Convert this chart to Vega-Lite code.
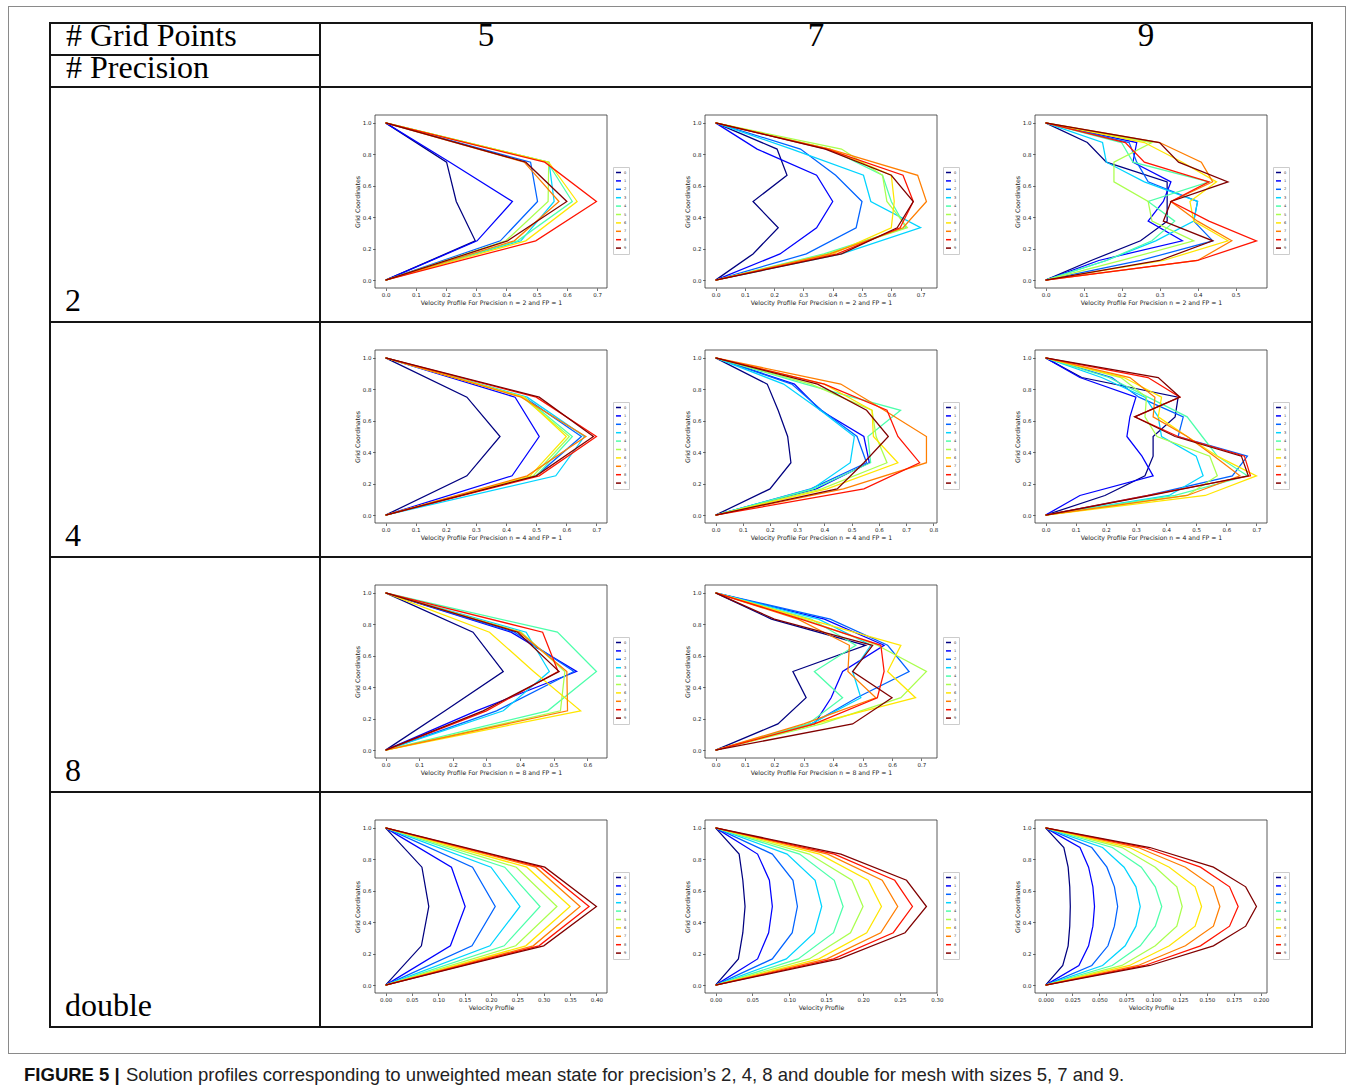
{
"$schema":"https://vega.github.io/schema/vega-lite/v6.json",
"padding":{"left":8,"top":6,"right":0,"bottom":0},
"background":"white",
"config":{
 "view":{"stroke":null},
 "axis":{"labelFont":"DejaVu Sans","titleFont":"DejaVu Sans","labelFontSize":5.5,"titleFontSize":6.2,"titleFontWeight":"normal","labelColor":"#222","titleColor":"#222","tickColor":"#333","tickSize":2.5,"tickWidth":0.7,"labelPadding":1.5,"titlePadding":2,"grid":false,"domain":false,"labelOverlap":false,"labelFlush":false,"labelBound":false},
 "legend":{"symbolType":"stroke","symbolSize":25,"symbolStrokeWidth":1.5,"labelFont":"DejaVu Sans","labelFontSize":3.6,"labelColor":"#333","rowPadding":1.4,"padding":2,"strokeColor":"#ccc","fillColor":"#fff","labelOffset":2,"columnPadding":0}
},
"datasets":{
"P25":[
{"s":0,"y":0,"x":0},{"s":0,"y":0.25,"x":0.297},{"s":0,"y":0.5,"x":0.234},{"s":0,"y":0.75,"x":0.202},{"s":0,"y":1,"x":0},
{"s":1,"y":0,"x":0},{"s":1,"y":0.25,"x":0.303},{"s":1,"y":0.5,"x":0.42},{"s":1,"y":0.75,"x":0.213},{"s":1,"y":1,"x":0},
{"s":2,"y":0,"x":0},{"s":2,"y":0.25,"x":0.38},{"s":2,"y":0.5,"x":0.503},{"s":2,"y":0.75,"x":0.48},{"s":2,"y":1,"x":0},
{"s":3,"y":0,"x":0},{"s":3,"y":0.25,"x":0.448},{"s":3,"y":0.5,"x":0.558},{"s":3,"y":0.75,"x":0.541},{"s":3,"y":1,"x":0},
{"s":4,"y":0,"x":0},{"s":4,"y":0.25,"x":0.437},{"s":4,"y":0.5,"x":0.618},{"s":4,"y":0.75,"x":0.536},{"s":4,"y":1,"x":0},
{"s":5,"y":0,"x":0},{"s":5,"y":0.25,"x":0.398},{"s":5,"y":0.5,"x":0.538},{"s":5,"y":0.75,"x":0.54},{"s":5,"y":1,"x":0},
{"s":6,"y":0,"x":0},{"s":6,"y":0.25,"x":0.464},{"s":6,"y":0.5,"x":0.634},{"s":6,"y":0.75,"x":0.54},{"s":6,"y":1,"x":0},
{"s":7,"y":0,"x":0},{"s":7,"y":0.25,"x":0.426},{"s":7,"y":0.5,"x":0.574},{"s":7,"y":0.75,"x":0.459},{"s":7,"y":1,"x":0},
{"s":8,"y":0,"x":0},{"s":8,"y":0.25,"x":0.497},{"s":8,"y":0.5,"x":0.698},{"s":8,"y":0.75,"x":0.527},{"s":8,"y":1,"x":0},
{"s":9,"y":0,"x":0},{"s":9,"y":0.25,"x":0.404},{"s":9,"y":0.5,"x":0.6},{"s":9,"y":0.75,"x":0.464},{"s":9,"y":1,"x":0}
],
"P27":[
{"s":0,"y":0,"x":0},{"s":0,"y":0.1667,"x":0.128},{"s":0,"y":0.3333,"x":0.214},{"s":0,"y":0.5,"x":0.128},{"s":0,"y":0.6667,"x":0.244},{"s":0,"y":0.8333,"x":0.21},{"s":0,"y":1,"x":0},
{"s":1,"y":0,"x":0},{"s":1,"y":0.1667,"x":0.22},{"s":1,"y":0.3333,"x":0.345},{"s":1,"y":0.5,"x":0.4},{"s":1,"y":0.6667,"x":0.345},{"s":1,"y":0.8333,"x":0.142},{"s":1,"y":1,"x":0},
{"s":2,"y":0,"x":0},{"s":2,"y":0.1667,"x":0.31},{"s":2,"y":0.3333,"x":0.48},{"s":2,"y":0.5,"x":0.5},{"s":2,"y":0.6667,"x":0.41},{"s":2,"y":0.8333,"x":0.29},{"s":2,"y":1,"x":0},
{"s":3,"y":0,"x":0},{"s":3,"y":0.1667,"x":0.43},{"s":3,"y":0.3333,"x":0.7},{"s":3,"y":0.5,"x":0.53},{"s":3,"y":0.6667,"x":0.505},{"s":3,"y":0.8333,"x":0.26},{"s":3,"y":1,"x":0},
{"s":4,"y":0,"x":0},{"s":4,"y":0.1667,"x":0.37},{"s":4,"y":0.3333,"x":0.65},{"s":4,"y":0.5,"x":0.6},{"s":4,"y":0.6667,"x":0.57},{"s":4,"y":0.8333,"x":0.39},{"s":4,"y":1,"x":0},
{"s":5,"y":0,"x":0},{"s":5,"y":0.1667,"x":0.38},{"s":5,"y":0.3333,"x":0.655},{"s":5,"y":0.5,"x":0.585},{"s":5,"y":0.6667,"x":0.57},{"s":5,"y":0.8333,"x":0.43},{"s":5,"y":1,"x":0},
{"s":6,"y":0,"x":0},{"s":6,"y":0.1667,"x":0.4},{"s":6,"y":0.3333,"x":0.6},{"s":6,"y":0.5,"x":0.61},{"s":6,"y":0.6667,"x":0.6},{"s":6,"y":0.8333,"x":0.39},{"s":6,"y":1,"x":0},
{"s":7,"y":0,"x":0},{"s":7,"y":0.1667,"x":0.39},{"s":7,"y":0.3333,"x":0.64},{"s":7,"y":0.5,"x":0.72},{"s":7,"y":0.6667,"x":0.69},{"s":7,"y":0.8333,"x":0.39},{"s":7,"y":1,"x":0},
{"s":8,"y":0,"x":0},{"s":8,"y":0.1667,"x":0.415},{"s":8,"y":0.3333,"x":0.63},{"s":8,"y":0.5,"x":0.675},{"s":8,"y":0.6667,"x":0.64},{"s":8,"y":0.8333,"x":0.38},{"s":8,"y":1,"x":0},
{"s":9,"y":0,"x":0},{"s":9,"y":0.1667,"x":0.43},{"s":9,"y":0.3333,"x":0.62},{"s":9,"y":0.5,"x":0.675},{"s":9,"y":0.6667,"x":0.6},{"s":9,"y":0.8333,"x":0.375},{"s":9,"y":1,"x":0}
],
"P29":[
{"s":0,"y":0,"x":0},{"s":0,"y":0.125,"x":0.12},{"s":0,"y":0.25,"x":0.25},{"s":0,"y":0.375,"x":0.32},{"s":0,"y":0.5,"x":0.32},{"s":0,"y":0.625,"x":0.32},{"s":0,"y":0.75,"x":0.16},{"s":0,"y":0.875,"x":0.11},{"s":0,"y":1,"x":0},
{"s":1,"y":0,"x":0},{"s":1,"y":0.125,"x":0.14},{"s":1,"y":0.25,"x":0.36},{"s":1,"y":0.375,"x":0.27},{"s":1,"y":0.5,"x":0.31},{"s":1,"y":0.625,"x":0.33},{"s":1,"y":0.75,"x":0.23},{"s":1,"y":0.875,"x":0.24},{"s":1,"y":1,"x":0},
{"s":2,"y":0,"x":0},{"s":2,"y":0.125,"x":0.25},{"s":2,"y":0.25,"x":0.44},{"s":2,"y":0.375,"x":0.39},{"s":2,"y":0.5,"x":0.4},{"s":2,"y":0.625,"x":0.27},{"s":2,"y":0.75,"x":0.24},{"s":2,"y":0.875,"x":0.22},{"s":2,"y":1,"x":0},
{"s":3,"y":0,"x":0},{"s":3,"y":0.125,"x":0.16},{"s":3,"y":0.25,"x":0.29},{"s":3,"y":0.375,"x":0.39},{"s":3,"y":0.5,"x":0.4},{"s":3,"y":0.625,"x":0.26},{"s":3,"y":0.75,"x":0.16},{"s":3,"y":0.875,"x":0.15},{"s":3,"y":1,"x":0},
{"s":4,"y":0,"x":0},{"s":4,"y":0.125,"x":0.16},{"s":4,"y":0.25,"x":0.28},{"s":4,"y":0.375,"x":0.34},{"s":4,"y":0.5,"x":0.27},{"s":4,"y":0.625,"x":0.43},{"s":4,"y":0.75,"x":0.23},{"s":4,"y":0.875,"x":0.2},{"s":4,"y":1,"x":0},
{"s":5,"y":0,"x":0},{"s":5,"y":0.125,"x":0.2},{"s":5,"y":0.25,"x":0.39},{"s":5,"y":0.375,"x":0.28},{"s":5,"y":0.5,"x":0.27},{"s":5,"y":0.625,"x":0.18},{"s":5,"y":0.75,"x":0.18},{"s":5,"y":0.875,"x":0.28},{"s":5,"y":1,"x":0},
{"s":6,"y":0,"x":0},{"s":6,"y":0.125,"x":0.31},{"s":6,"y":0.25,"x":0.48},{"s":6,"y":0.375,"x":0.39},{"s":6,"y":0.5,"x":0.38},{"s":6,"y":0.625,"x":0.45},{"s":6,"y":0.75,"x":0.36},{"s":6,"y":0.875,"x":0.26},{"s":6,"y":1,"x":0},
{"s":7,"y":0,"x":0},{"s":7,"y":0.125,"x":0.4},{"s":7,"y":0.25,"x":0.49},{"s":7,"y":0.375,"x":0.4},{"s":7,"y":0.5,"x":0.33},{"s":7,"y":0.625,"x":0.44},{"s":7,"y":0.75,"x":0.41},{"s":7,"y":0.875,"x":0.3},{"s":7,"y":1,"x":0},
{"s":8,"y":0,"x":0},{"s":8,"y":0.125,"x":0.4},{"s":8,"y":0.25,"x":0.555},{"s":8,"y":0.375,"x":0.43},{"s":8,"y":0.5,"x":0.33},{"s":8,"y":0.625,"x":0.43},{"s":8,"y":0.75,"x":0.26},{"s":8,"y":0.875,"x":0.21},{"s":8,"y":1,"x":0},
{"s":9,"y":0,"x":0},{"s":9,"y":0.125,"x":0.3},{"s":9,"y":0.25,"x":0.44},{"s":9,"y":0.375,"x":0.31},{"s":9,"y":0.5,"x":0.33},{"s":9,"y":0.625,"x":0.48},{"s":9,"y":0.75,"x":0.35},{"s":9,"y":0.875,"x":0.3},{"s":9,"y":1,"x":0}
],
"P45":[
{"s":0,"y":0,"x":0},{"s":0,"y":0.25,"x":0.27},{"s":0,"y":0.5,"x":0.38},{"s":0,"y":0.75,"x":0.27},{"s":0,"y":1,"x":0},
{"s":1,"y":0,"x":0},{"s":1,"y":0.25,"x":0.42},{"s":1,"y":0.5,"x":0.51},{"s":1,"y":0.75,"x":0.43},{"s":1,"y":1,"x":0},
{"s":2,"y":0,"x":0},{"s":2,"y":0.25,"x":0.5},{"s":2,"y":0.5,"x":0.65},{"s":2,"y":0.75,"x":0.46},{"s":2,"y":1,"x":0},
{"s":3,"y":0,"x":0},{"s":3,"y":0.25,"x":0.565},{"s":3,"y":0.5,"x":0.66},{"s":3,"y":0.75,"x":0.47},{"s":3,"y":1,"x":0},
{"s":4,"y":0,"x":0},{"s":4,"y":0.25,"x":0.5},{"s":4,"y":0.5,"x":0.62},{"s":4,"y":0.75,"x":0.46},{"s":4,"y":1,"x":0},
{"s":5,"y":0,"x":0},{"s":5,"y":0.25,"x":0.49},{"s":5,"y":0.5,"x":0.61},{"s":5,"y":0.75,"x":0.455},{"s":5,"y":1,"x":0},
{"s":6,"y":0,"x":0},{"s":6,"y":0.25,"x":0.48},{"s":6,"y":0.5,"x":0.6},{"s":6,"y":0.75,"x":0.46},{"s":6,"y":1,"x":0},
{"s":7,"y":0,"x":0},{"s":7,"y":0.25,"x":0.47},{"s":7,"y":0.5,"x":0.665},{"s":7,"y":0.75,"x":0.45},{"s":7,"y":1,"x":0},
{"s":8,"y":0,"x":0},{"s":8,"y":0.25,"x":0.51},{"s":8,"y":0.5,"x":0.7},{"s":8,"y":0.75,"x":0.5},{"s":8,"y":1,"x":0},
{"s":9,"y":0,"x":0},{"s":9,"y":0.25,"x":0.5},{"s":9,"y":0.5,"x":0.69},{"s":9,"y":0.75,"x":0.51},{"s":9,"y":1,"x":0}
],
"P47":[
{"s":0,"y":0,"x":0},{"s":0,"y":0.1667,"x":0.2},{"s":0,"y":0.3333,"x":0.277},{"s":0,"y":0.5,"x":0.265},{"s":0,"y":0.6667,"x":0.23},{"s":0,"y":0.8333,"x":0.19},{"s":0,"y":1,"x":0},
{"s":1,"y":0,"x":0},{"s":1,"y":0.1667,"x":0.37},{"s":1,"y":0.3333,"x":0.565},{"s":1,"y":0.5,"x":0.545},{"s":1,"y":0.6667,"x":0.385},{"s":1,"y":0.8333,"x":0.29},{"s":1,"y":1,"x":0},
{"s":2,"y":0,"x":0},{"s":2,"y":0.1667,"x":0.35},{"s":2,"y":0.3333,"x":0.555},{"s":2,"y":0.5,"x":0.52},{"s":2,"y":0.6667,"x":0.39},{"s":2,"y":0.8333,"x":0.28},{"s":2,"y":1,"x":0},
{"s":3,"y":0,"x":0},{"s":3,"y":0.1667,"x":0.355},{"s":3,"y":0.3333,"x":0.495},{"s":3,"y":0.5,"x":0.51},{"s":3,"y":0.6667,"x":0.385},{"s":3,"y":0.8333,"x":0.25},{"s":3,"y":1,"x":0},
{"s":4,"y":0,"x":0},{"s":4,"y":0.1667,"x":0.36},{"s":4,"y":0.3333,"x":0.57},{"s":4,"y":0.5,"x":0.56},{"s":4,"y":0.6667,"x":0.68},{"s":4,"y":0.8333,"x":0.33},{"s":4,"y":1,"x":0},
{"s":5,"y":0,"x":0},{"s":5,"y":0.1667,"x":0.39},{"s":5,"y":0.3333,"x":0.63},{"s":5,"y":0.5,"x":0.59},{"s":5,"y":0.6667,"x":0.575},{"s":5,"y":0.8333,"x":0.35},{"s":5,"y":1,"x":0},
{"s":6,"y":0,"x":0},{"s":6,"y":0.1667,"x":0.41},{"s":6,"y":0.3333,"x":0.67},{"s":6,"y":0.5,"x":0.58},{"s":6,"y":0.6667,"x":0.575},{"s":6,"y":0.8333,"x":0.4},{"s":6,"y":1,"x":0},
{"s":7,"y":0,"x":0},{"s":7,"y":0.1667,"x":0.47},{"s":7,"y":0.3333,"x":0.775},{"s":7,"y":0.5,"x":0.775},{"s":7,"y":0.6667,"x":0.62},{"s":7,"y":0.8333,"x":0.46},{"s":7,"y":1,"x":0},
{"s":8,"y":0,"x":0},{"s":8,"y":0.1667,"x":0.545},{"s":8,"y":0.3333,"x":0.75},{"s":8,"y":0.5,"x":0.67},{"s":8,"y":0.6667,"x":0.63},{"s":8,"y":0.8333,"x":0.4},{"s":8,"y":1,"x":0},
{"s":9,"y":0,"x":0},{"s":9,"y":0.1667,"x":0.447},{"s":9,"y":0.3333,"x":0.545},{"s":9,"y":0.5,"x":0.635},{"s":9,"y":0.6667,"x":0.555},{"s":9,"y":0.8333,"x":0.375},{"s":9,"y":1,"x":0}
],
"P49":[
{"s":0,"y":0,"x":0},{"s":0,"y":0.125,"x":0.197},{"s":0,"y":0.25,"x":0.33},{"s":0,"y":0.375,"x":0.357},{"s":0,"y":0.5,"x":0.357},{"s":0,"y":0.625,"x":0.43},{"s":0,"y":0.75,"x":0.44},{"s":0,"y":0.875,"x":0.12},{"s":0,"y":1,"x":0},
{"s":1,"y":0,"x":0},{"s":1,"y":0.125,"x":0.114},{"s":1,"y":0.25,"x":0.357},{"s":1,"y":0.375,"x":0.32},{"s":1,"y":0.5,"x":0.27},{"s":1,"y":0.625,"x":0.28},{"s":1,"y":0.75,"x":0.3},{"s":1,"y":0.875,"x":0.114},{"s":1,"y":1,"x":0},
{"s":2,"y":0,"x":0},{"s":2,"y":0.125,"x":0.34},{"s":2,"y":0.25,"x":0.62},{"s":2,"y":0.375,"x":0.67},{"s":2,"y":0.5,"x":0.44},{"s":2,"y":0.625,"x":0.457},{"s":2,"y":0.75,"x":0.31},{"s":2,"y":0.875,"x":0.22},{"s":2,"y":1,"x":0},
{"s":3,"y":0,"x":0},{"s":3,"y":0.125,"x":0.41},{"s":3,"y":0.25,"x":0.523},{"s":3,"y":0.375,"x":0.5},{"s":3,"y":0.5,"x":0.385},{"s":3,"y":0.625,"x":0.374},{"s":3,"y":0.75,"x":0.33},{"s":3,"y":0.875,"x":0.186},{"s":3,"y":1,"x":0},
{"s":4,"y":0,"x":0},{"s":4,"y":0.125,"x":0.43},{"s":4,"y":0.25,"x":0.67},{"s":4,"y":0.375,"x":0.57},{"s":4,"y":0.5,"x":0.52},{"s":4,"y":0.625,"x":0.47},{"s":4,"y":0.75,"x":0.34},{"s":4,"y":0.875,"x":0.21},{"s":4,"y":1,"x":0},
{"s":5,"y":0,"x":0},{"s":5,"y":0.125,"x":0.47},{"s":5,"y":0.25,"x":0.57},{"s":5,"y":0.375,"x":0.545},{"s":5,"y":0.5,"x":0.37},{"s":5,"y":0.625,"x":0.33},{"s":5,"y":0.75,"x":0.335},{"s":5,"y":0.875,"x":0.25},{"s":5,"y":1,"x":0},
{"s":6,"y":0,"x":0},{"s":6,"y":0.125,"x":0.53},{"s":6,"y":0.25,"x":0.7},{"s":6,"y":0.375,"x":0.57},{"s":6,"y":0.5,"x":0.47},{"s":6,"y":0.625,"x":0.374},{"s":6,"y":0.75,"x":0.385},{"s":6,"y":0.875,"x":0.26},{"s":6,"y":1,"x":0},
{"s":7,"y":0,"x":0},{"s":7,"y":0.125,"x":0.47},{"s":7,"y":0.25,"x":0.645},{"s":7,"y":0.375,"x":0.56},{"s":7,"y":0.5,"x":0.47},{"s":7,"y":0.625,"x":0.357},{"s":7,"y":0.75,"x":0.363},{"s":7,"y":0.875,"x":0.28},{"s":7,"y":1,"x":0},
{"s":8,"y":0,"x":0},{"s":8,"y":0.125,"x":0.34},{"s":8,"y":0.25,"x":0.68},{"s":8,"y":0.375,"x":0.66},{"s":8,"y":0.5,"x":0.44},{"s":8,"y":0.625,"x":0.296},{"s":8,"y":0.75,"x":0.446},{"s":8,"y":0.875,"x":0.34},{"s":8,"y":1,"x":0},
{"s":9,"y":0,"x":0},{"s":9,"y":0.125,"x":0.35},{"s":9,"y":0.25,"x":0.673},{"s":9,"y":0.375,"x":0.65},{"s":9,"y":0.5,"x":0.43},{"s":9,"y":0.625,"x":0.296},{"s":9,"y":0.75,"x":0.446},{"s":9,"y":0.875,"x":0.374},{"s":9,"y":1,"x":0}
],
"P85":[
{"s":0,"y":0,"x":0},{"s":0,"y":0.25,"x":0.177},{"s":0,"y":0.5,"x":0.35},{"s":0,"y":0.75,"x":0.26},{"s":0,"y":1,"x":0},
{"s":1,"y":0,"x":0},{"s":1,"y":0.25,"x":0.27},{"s":1,"y":0.5,"x":0.568},{"s":1,"y":0.75,"x":0.373},{"s":1,"y":1,"x":0},
{"s":2,"y":0,"x":0},{"s":2,"y":0.25,"x":0.33},{"s":2,"y":0.5,"x":0.56},{"s":2,"y":0.75,"x":0.383},{"s":2,"y":1,"x":0},
{"s":3,"y":0,"x":0},{"s":3,"y":0.25,"x":0.35},{"s":3,"y":0.5,"x":0.487},{"s":3,"y":0.75,"x":0.418},{"s":3,"y":1,"x":0},
{"s":4,"y":0,"x":0},{"s":4,"y":0.25,"x":0.482},{"s":4,"y":0.5,"x":0.627},{"s":4,"y":0.75,"x":0.511},{"s":4,"y":1,"x":0},
{"s":5,"y":0,"x":0},{"s":5,"y":0.25,"x":0.52},{"s":5,"y":0.5,"x":0.533},{"s":5,"y":0.75,"x":0.403},{"s":5,"y":1,"x":0},
{"s":6,"y":0,"x":0},{"s":6,"y":0.25,"x":0.58},{"s":6,"y":0.5,"x":0.44},{"s":6,"y":0.75,"x":0.309},{"s":6,"y":1,"x":0},
{"s":7,"y":0,"x":0},{"s":7,"y":0.25,"x":0.541},{"s":7,"y":0.5,"x":0.539},{"s":7,"y":0.75,"x":0.398},{"s":7,"y":1,"x":0},
{"s":8,"y":0,"x":0},{"s":8,"y":0.25,"x":0.3},{"s":8,"y":0.5,"x":0.513},{"s":8,"y":0.75,"x":0.467},{"s":8,"y":1,"x":0},
{"s":9,"y":0,"x":0},{"s":9,"y":0.25,"x":0.29},{"s":9,"y":0.5,"x":0.516},{"s":9,"y":0.75,"x":0.393},{"s":9,"y":1,"x":0}
],
"P87":[
{"s":0,"y":0,"x":0},{"s":0,"y":0.1667,"x":0.212},{"s":0,"y":0.3333,"x":0.308},{"s":0,"y":0.5,"x":0.263},{"s":0,"y":0.6667,"x":0.51},{"s":0,"y":0.8333,"x":0.19},{"s":0,"y":1,"x":0},
{"s":1,"y":0,"x":0},{"s":1,"y":0.1667,"x":0.336},{"s":1,"y":0.3333,"x":0.393},{"s":1,"y":0.5,"x":0.432},{"s":1,"y":0.6667,"x":0.573},{"s":1,"y":0.8333,"x":0.37},{"s":1,"y":1,"x":0},
{"s":2,"y":0,"x":0},{"s":2,"y":0.1667,"x":0.325},{"s":2,"y":0.3333,"x":0.48},{"s":2,"y":0.5,"x":0.658},{"s":2,"y":0.6667,"x":0.585},{"s":2,"y":0.8333,"x":0.39},{"s":2,"y":1,"x":0},
{"s":3,"y":0,"x":0},{"s":3,"y":0.1667,"x":0.325},{"s":3,"y":0.3333,"x":0.494},{"s":3,"y":0.5,"x":0.466},{"s":3,"y":0.6667,"x":0.528},{"s":3,"y":0.8333,"x":0.35},{"s":3,"y":1,"x":0},
{"s":4,"y":0,"x":0},{"s":4,"y":0.1667,"x":0.314},{"s":4,"y":0.3333,"x":0.432},{"s":4,"y":0.5,"x":0.336},{"s":4,"y":0.6667,"x":0.477},{"s":4,"y":0.8333,"x":0.325},{"s":4,"y":1,"x":0},
{"s":5,"y":0,"x":0},{"s":5,"y":0.1667,"x":0.36},{"s":5,"y":0.3333,"x":0.63},{"s":5,"y":0.5,"x":0.717},{"s":5,"y":0.6667,"x":0.55},{"s":5,"y":0.8333,"x":0.3},{"s":5,"y":1,"x":0},
{"s":6,"y":0,"x":0},{"s":6,"y":0.1667,"x":0.336},{"s":6,"y":0.3333,"x":0.68},{"s":6,"y":0.5,"x":0.585},{"s":6,"y":0.6667,"x":0.63},{"s":6,"y":0.8333,"x":0.314},{"s":6,"y":1,"x":0},
{"s":7,"y":0,"x":0},{"s":7,"y":0.1667,"x":0.3},{"s":7,"y":0.3333,"x":0.545},{"s":7,"y":0.5,"x":0.45},{"s":7,"y":0.6667,"x":0.455},{"s":7,"y":0.8333,"x":0.28},{"s":7,"y":1,"x":0},
{"s":8,"y":0,"x":0},{"s":8,"y":0.1667,"x":0.336},{"s":8,"y":0.3333,"x":0.55},{"s":8,"y":0.5,"x":0.573},{"s":8,"y":0.6667,"x":0.562},{"s":8,"y":0.8333,"x":0.29},{"s":8,"y":1,"x":0},
{"s":9,"y":0,"x":0},{"s":9,"y":0.1667,"x":0.466},{"s":9,"y":0.3333,"x":0.6},{"s":9,"y":0.5,"x":0.466},{"s":9,"y":0.6667,"x":0.534},{"s":9,"y":0.8333,"x":0.2},{"s":9,"y":1,"x":0}
],
"PD5":[
{"s":0,"y":0,"x":0},{"s":0,"y":0.25,"x":0.068},{"s":0,"y":0.5,"x":0.082},{"s":0,"y":0.75,"x":0.069},{"s":0,"y":1,"x":0},
{"s":1,"y":0,"x":0},{"s":1,"y":0.25,"x":0.123},{"s":1,"y":0.5,"x":0.151},{"s":1,"y":0.75,"x":0.125},{"s":1,"y":1,"x":0},
{"s":2,"y":0,"x":0},{"s":2,"y":0.25,"x":0.164},{"s":2,"y":0.5,"x":0.208},{"s":2,"y":0.75,"x":0.165},{"s":2,"y":1,"x":0},
{"s":3,"y":0,"x":0},{"s":3,"y":0.25,"x":0.198},{"s":3,"y":0.5,"x":0.255},{"s":3,"y":0.75,"x":0.2},{"s":3,"y":1,"x":0},
{"s":4,"y":0,"x":0},{"s":4,"y":0.25,"x":0.225},{"s":4,"y":0.5,"x":0.293},{"s":4,"y":0.75,"x":0.226},{"s":4,"y":1,"x":0},
{"s":5,"y":0,"x":0},{"s":5,"y":0.25,"x":0.247},{"s":5,"y":0.5,"x":0.325},{"s":5,"y":0.75,"x":0.248},{"s":5,"y":1,"x":0},
{"s":6,"y":0,"x":0},{"s":6,"y":0.25,"x":0.266},{"s":6,"y":0.5,"x":0.35},{"s":6,"y":0.75,"x":0.268},{"s":6,"y":1,"x":0},
{"s":7,"y":0,"x":0},{"s":7,"y":0.25,"x":0.28},{"s":7,"y":0.5,"x":0.369},{"s":7,"y":0.75,"x":0.285},{"s":7,"y":1,"x":0},
{"s":8,"y":0,"x":0},{"s":8,"y":0.25,"x":0.291},{"s":8,"y":0.5,"x":0.386},{"s":8,"y":0.75,"x":0.294},{"s":8,"y":1,"x":0},
{"s":9,"y":0,"x":0},{"s":9,"y":0.25,"x":0.3},{"s":9,"y":0.5,"x":0.4},{"s":9,"y":0.75,"x":0.302},{"s":9,"y":1,"x":0}
],
"PD7":[
{"s":0,"y":0,"x":0},{"s":0,"y":0.1667,"x":0.031},{"s":0,"y":0.3333,"x":0.037},{"s":0,"y":0.5,"x":0.04},{"s":0,"y":0.6667,"x":0.037},{"s":0,"y":0.8333,"x":0.032},{"s":0,"y":1,"x":0},
{"s":1,"y":0,"x":0},{"s":1,"y":0.1667,"x":0.057},{"s":1,"y":0.3333,"x":0.072},{"s":1,"y":0.5,"x":0.077},{"s":1,"y":0.6667,"x":0.073},{"s":1,"y":0.8333,"x":0.057},{"s":1,"y":1,"x":0},
{"s":2,"y":0,"x":0},{"s":2,"y":0.1667,"x":0.077},{"s":2,"y":0.3333,"x":0.104},{"s":2,"y":0.5,"x":0.111},{"s":2,"y":0.6667,"x":0.105},{"s":2,"y":0.8333,"x":0.077},{"s":2,"y":1,"x":0},
{"s":3,"y":0,"x":0},{"s":3,"y":0.1667,"x":0.096},{"s":3,"y":0.3333,"x":0.134},{"s":3,"y":0.5,"x":0.144},{"s":3,"y":0.6667,"x":0.135},{"s":3,"y":0.8333,"x":0.097},{"s":3,"y":1,"x":0},
{"s":4,"y":0,"x":0},{"s":4,"y":0.1667,"x":0.112},{"s":4,"y":0.3333,"x":0.16},{"s":4,"y":0.5,"x":0.173},{"s":4,"y":0.6667,"x":0.161},{"s":4,"y":0.8333,"x":0.114},{"s":4,"y":1,"x":0},
{"s":5,"y":0,"x":0},{"s":5,"y":0.1667,"x":0.127},{"s":5,"y":0.3333,"x":0.183},{"s":5,"y":0.5,"x":0.2},{"s":5,"y":0.6667,"x":0.185},{"s":5,"y":0.8333,"x":0.127},{"s":5,"y":1,"x":0},
{"s":6,"y":0,"x":0},{"s":6,"y":0.1667,"x":0.14},{"s":6,"y":0.3333,"x":0.205},{"s":6,"y":0.5,"x":0.225},{"s":6,"y":0.6667,"x":0.207},{"s":6,"y":0.8333,"x":0.141},{"s":6,"y":1,"x":0},
{"s":7,"y":0,"x":0},{"s":7,"y":0.1667,"x":0.151},{"s":7,"y":0.3333,"x":0.224},{"s":7,"y":0.5,"x":0.247},{"s":7,"y":0.6667,"x":0.226},{"s":7,"y":0.8333,"x":0.152},{"s":7,"y":1,"x":0},
{"s":8,"y":0,"x":0},{"s":8,"y":0.1667,"x":0.16},{"s":8,"y":0.3333,"x":0.241},{"s":8,"y":0.5,"x":0.267},{"s":8,"y":0.6667,"x":0.243},{"s":8,"y":0.8333,"x":0.161},{"s":8,"y":1,"x":0},
{"s":9,"y":0,"x":0},{"s":9,"y":0.1667,"x":0.168},{"s":9,"y":0.3333,"x":0.257},{"s":9,"y":0.5,"x":0.286},{"s":9,"y":0.6667,"x":0.259},{"s":9,"y":0.8333,"x":0.17},{"s":9,"y":1,"x":0}
],
"PD9":[
{"s":0,"y":0,"x":0},{"s":0,"y":0.125,"x":0.016},{"s":0,"y":0.25,"x":0.021},{"s":0,"y":0.375,"x":0.0225},{"s":0,"y":0.5,"x":0.023},{"s":0,"y":0.625,"x":0.0225},{"s":0,"y":0.75,"x":0.021},{"s":0,"y":0.875,"x":0.017},{"s":0,"y":1,"x":0},
{"s":1,"y":0,"x":0},{"s":1,"y":0.125,"x":0.031},{"s":1,"y":0.25,"x":0.04},{"s":1,"y":0.375,"x":0.044},{"s":1,"y":0.5,"x":0.0455},{"s":1,"y":0.625,"x":0.044},{"s":1,"y":0.75,"x":0.04},{"s":1,"y":0.875,"x":0.032},{"s":1,"y":1,"x":0},
{"s":2,"y":0,"x":0},{"s":2,"y":0.125,"x":0.043},{"s":2,"y":0.25,"x":0.058},{"s":2,"y":0.375,"x":0.064},{"s":2,"y":0.5,"x":0.067},{"s":2,"y":0.625,"x":0.064},{"s":2,"y":0.75,"x":0.057},{"s":2,"y":0.875,"x":0.043},{"s":2,"y":1,"x":0},
{"s":3,"y":0,"x":0},{"s":3,"y":0.125,"x":0.053},{"s":3,"y":0.25,"x":0.074},{"s":3,"y":0.375,"x":0.084},{"s":3,"y":0.5,"x":0.088},{"s":3,"y":0.625,"x":0.084},{"s":3,"y":0.75,"x":0.073},{"s":3,"y":0.875,"x":0.053},{"s":3,"y":1,"x":0},
{"s":4,"y":0,"x":0},{"s":4,"y":0.125,"x":0.062},{"s":4,"y":0.25,"x":0.088},{"s":4,"y":0.375,"x":0.102},{"s":4,"y":0.5,"x":0.108},{"s":4,"y":0.625,"x":0.102},{"s":4,"y":0.75,"x":0.089},{"s":4,"y":0.875,"x":0.062},{"s":4,"y":1,"x":0},
{"s":5,"y":0,"x":0},{"s":5,"y":0.125,"x":0.071},{"s":5,"y":0.25,"x":0.102},{"s":5,"y":0.375,"x":0.122},{"s":5,"y":0.5,"x":0.127},{"s":5,"y":0.625,"x":0.122},{"s":5,"y":0.75,"x":0.102},{"s":5,"y":0.875,"x":0.071},{"s":5,"y":1,"x":0},
{"s":6,"y":0,"x":0},{"s":6,"y":0.125,"x":0.078},{"s":6,"y":0.25,"x":0.115},{"s":6,"y":0.375,"x":0.139},{"s":6,"y":0.5,"x":0.145},{"s":6,"y":0.625,"x":0.139},{"s":6,"y":0.75,"x":0.115},{"s":6,"y":0.875,"x":0.078},{"s":6,"y":1,"x":0},
{"s":7,"y":0,"x":0},{"s":7,"y":0.125,"x":0.086},{"s":7,"y":0.25,"x":0.13},{"s":7,"y":0.375,"x":0.156},{"s":7,"y":0.5,"x":0.162},{"s":7,"y":0.625,"x":0.156},{"s":7,"y":0.75,"x":0.13},{"s":7,"y":0.875,"x":0.086},{"s":7,"y":1,"x":0},
{"s":8,"y":0,"x":0},{"s":8,"y":0.125,"x":0.092},{"s":8,"y":0.25,"x":0.144},{"s":8,"y":0.375,"x":0.171},{"s":8,"y":0.5,"x":0.179},{"s":8,"y":0.625,"x":0.171},{"s":8,"y":0.75,"x":0.144},{"s":8,"y":0.875,"x":0.092},{"s":8,"y":1,"x":0},
{"s":9,"y":0,"x":0},{"s":9,"y":0.125,"x":0.097},{"s":9,"y":0.25,"x":0.156},{"s":9,"y":0.375,"x":0.186},{"s":9,"y":0.5,"x":0.196},{"s":9,"y":0.625,"x":0.186},{"s":9,"y":0.75,"x":0.156},{"s":9,"y":0.875,"x":0.097},{"s":9,"y":1,"x":0}
]
},
"spacing":0,
"vconcat":[
 {"width":1338,"height":1,"data":{"values":[]},"mark":"point","view":{"fill":"#8a8a8a"}},
 {"spacing":0,"hconcat":[
  {"width":1,"height":1046,"data":{"values":[]},"mark":"point","view":{"fill":"#8a8a8a"}},
  {"width":40,"height":1046,"data":{"values":[]},"mark":"point"},
  {"spacing":0,"vconcat":[
   {"width":1,"height":15,"data":{"values":[]},"mark":"point"},
   {"width":1264,"height":2,"data":{"values":[]},"mark":"point","view":{"fill":"#151515"}},
   {"spacing":0,"hconcat":[
    {"width":2,"height":62,"data":{"values":[]},"mark":"point","view":{"fill":"#151515"}},
    {"spacing":0,"vconcat":[
     {"width":268,"height":30,"data":{"values":[{"t":"# Grid Points"}]},"mark":{"type":"text","align":"left","baseline":"alphabetic","font":"Liberation Serif","fontSize":32,"color":"#000","clip":true},
      "encoding":{"text":{"field":"t"},"x":{"datum":0.056,"type":"quantitative","scale":{"domain":[0,1]},"axis":null},"y":{"datum":0.28,"type":"quantitative","scale":{"domain":[0,1]},"axis":null}}},
     {"width":268,"height":2,"data":{"values":[]},"mark":"point","view":{"fill":"#151515"}},
     {"width":268,"height":30,"data":{"values":[{"t":"# Precision"}]},"mark":{"type":"text","align":"left","baseline":"alphabetic","font":"Liberation Serif","fontSize":32,"color":"#000","clip":true},
      "encoding":{"text":{"field":"t"},"x":{"datum":0.056,"type":"quantitative","scale":{"domain":[0,1]},"axis":null},"y":{"datum":0.28,"type":"quantitative","scale":{"domain":[0,1]},"axis":null}}}
    ]},
    {"width":2,"height":62,"data":{"values":[]},"mark":"point","view":{"fill":"#151515"}},
    {"width":990,"height":62,"data":{"values":[{"g":"5"},{"g":"7"},{"g":"9"}]},"mark":{"type":"text","baseline":"alphabetic","font":"Liberation Serif","fontSize":33,"color":"#000","clip":true},
     "encoding":{"text":{"field":"g"},"x":{"field":"g","type":"nominal","axis":null},"y":{"datum":0.645,"type":"quantitative","scale":{"domain":[0,1]},"axis":null}}},
    {"width":2,"height":62,"data":{"values":[]},"mark":"point","view":{"fill":"#151515"}}
   ]},
   {"width":1264,"height":2,"data":{"values":[]},"mark":"point","view":{"fill":"#151515"}},
   {"spacing":0,"hconcat":[
    {"width":2,"height":233,"data":{"values":[]},"mark":"point","view":{"fill":"#151515"}},
    {"width":268,"height":233,"data":{"values":[{"t":"2"}]},"mark":{"type":"text","align":"left","baseline":"alphabetic","font":"Liberation Serif","fontSize":32,"color":"#000","clip":true},
     "encoding":{"text":{"field":"t"},"x":{"datum":0.052,"type":"quantitative","scale":{"domain":[0,1]},"axis":null},"y":{"datum":0.041,"type":"quantitative","scale":{"domain":[0,1]},"axis":null}}},
    {"width":2,"height":233,"data":{"values":[]},"mark":"point","view":{"fill":"#151515"}},
    {"width":990,"height":233,
     "resolve":{"scale":{"x":"independent","y":"independent","color":"independent"},"axis":{"x":"independent","y":"independent"},"legend":{"color":"independent"}},
     "layer":[
      {"layer":[
       {"data":{"values":[{}]},"mark":{"type":"rect","fillOpacity":0,"stroke":"#333","strokeWidth":0.8},"encoding":{"x":{"datum":-0.0349,"type":"quantitative"},"x2":{"datum":0.7329},"y":{"datum":-0.05,"type":"quantitative"},"y2":{"datum":1.05}}},
       {"data":{"name":"P25"},"mark":{"type":"line","strokeWidth":1.25},"encoding":{
        "x":{"field":"x","type":"quantitative","scale":{"domain":[-0.0349,0.7329],"range":[54,286],"nice":false,"zero":false},"axis":{"orient":"bottom","offset":-33,"values":[0,0.1,0.2,0.3,0.4,0.5,0.6,0.7],"format":".1f","title":"Velocity Profile For Precision n = 2 and FP = 1"}},
        "y":{"field":"y","type":"quantitative","scale":{"domain":[-0.05,1.05],"range":[200,27],"nice":false,"zero":false},"axis":{"orient":"left","offset":-54,"values":[0,0.2,0.4,0.6,0.8,1],"format":".1f","title":"Grid Coordinates"}},
        "color":{"field":"s","type":"nominal","scale":{"domain":[0,1,2,3,4,5,6,7,8,9],"range":["#000080","#0000ff","#0063ff","#00d4ff","#4dffaa","#aaff4d","#ffe600","#ff7e00","#ff1300","#800000"]},"legend":{"orient":"none","legendX":292,"legendY":79,"title":null}},
        "order":{"field":"y","type":"quantitative"}}}
      ]},
      {"layer":[
       {"data":{"values":[{}]},"mark":{"type":"rect","fillOpacity":0,"stroke":"#333","strokeWidth":0.8},"encoding":{"x":{"datum":-0.036,"type":"quantitative"},"x2":{"datum":0.756},"y":{"datum":-0.05,"type":"quantitative"},"y2":{"datum":1.05}}},
       {"data":{"name":"P27"},"mark":{"type":"line","strokeWidth":1.25},"encoding":{
        "x":{"field":"x","type":"quantitative","scale":{"domain":[-0.036,0.756],"range":[384,616],"nice":false,"zero":false},"axis":{"orient":"bottom","offset":-33,"values":[0,0.1,0.2,0.3,0.4,0.5,0.6,0.7],"format":".1f","title":"Velocity Profile For Precision n = 2 and FP = 1"}},
        "y":{"field":"y","type":"quantitative","scale":{"domain":[-0.05,1.05],"range":[200,27],"nice":false,"zero":false},"axis":{"orient":"left","offset":-384,"values":[0,0.2,0.4,0.6,0.8,1],"format":".1f","title":"Grid Coordinates"}},
        "color":{"field":"s","type":"nominal","scale":{"domain":[0,1,2,3,4,5,6,7,8,9],"range":["#000080","#0000ff","#0063ff","#00d4ff","#4dffaa","#aaff4d","#ffe600","#ff7e00","#ff1300","#800000"]},"legend":{"orient":"none","legendX":622,"legendY":79,"title":null}},
        "order":{"field":"y","type":"quantitative"}}}
      ]},
      {"layer":[
       {"data":{"values":[{}]},"mark":{"type":"rect","fillOpacity":0,"stroke":"#333","strokeWidth":0.8},"encoding":{"x":{"datum":-0.02775,"type":"quantitative"},"x2":{"datum":0.58275},"y":{"datum":-0.05,"type":"quantitative"},"y2":{"datum":1.05}}},
       {"data":{"name":"P29"},"mark":{"type":"line","strokeWidth":1.25},"encoding":{
        "x":{"field":"x","type":"quantitative","scale":{"domain":[-0.02775,0.58275],"range":[714,946],"nice":false,"zero":false},"axis":{"orient":"bottom","offset":-33,"values":[0,0.1,0.2,0.3,0.4,0.5],"format":".1f","title":"Velocity Profile For Precision n = 2 and FP = 1"}},
        "y":{"field":"y","type":"quantitative","scale":{"domain":[-0.05,1.05],"range":[200,27],"nice":false,"zero":false},"axis":{"orient":"left","offset":-714,"values":[0,0.2,0.4,0.6,0.8,1],"format":".1f","title":"Grid Coordinates"}},
        "color":{"field":"s","type":"nominal","scale":{"domain":[0,1,2,3,4,5,6,7,8,9],"range":["#000080","#0000ff","#0063ff","#00d4ff","#4dffaa","#aaff4d","#ffe600","#ff7e00","#ff1300","#800000"]},"legend":{"orient":"none","legendX":952,"legendY":79,"title":null}},
        "order":{"field":"y","type":"quantitative"}}}
      ]}
     ]},
    {"width":2,"height":233,"data":{"values":[]},"mark":"point","view":{"fill":"#151515"}}
   ]},
   {"width":1264,"height":2,"data":{"values":[]},"mark":"point","view":{"fill":"#151515"}},
   {"spacing":0,"hconcat":[
    {"width":2,"height":233,"data":{"values":[]},"mark":"point","view":{"fill":"#151515"}},
    {"width":268,"height":233,"data":{"values":[{"t":"4"}]},"mark":{"type":"text","align":"left","baseline":"alphabetic","font":"Liberation Serif","fontSize":32,"color":"#000","clip":true},
     "encoding":{"text":{"field":"t"},"x":{"datum":0.052,"type":"quantitative","scale":{"domain":[0,1]},"axis":null},"y":{"datum":0.041,"type":"quantitative","scale":{"domain":[0,1]},"axis":null}}},
    {"width":2,"height":233,"data":{"values":[]},"mark":"point","view":{"fill":"#151515"}},
    {"width":990,"height":233,
     "resolve":{"scale":{"x":"independent","y":"independent","color":"independent"},"axis":{"x":"independent","y":"independent"},"legend":{"color":"independent"}},
     "layer":[
      {"layer":[
       {"data":{"values":[{}]},"mark":{"type":"rect","fillOpacity":0,"stroke":"#333","strokeWidth":0.8},"encoding":{"x":{"datum":-0.035,"type":"quantitative"},"x2":{"datum":0.735},"y":{"datum":-0.05,"type":"quantitative"},"y2":{"datum":1.05}}},
       {"data":{"name":"P45"},"mark":{"type":"line","strokeWidth":1.25},"encoding":{
        "x":{"field":"x","type":"quantitative","scale":{"domain":[-0.035,0.735],"range":[54,286],"nice":false,"zero":false},"axis":{"orient":"bottom","offset":-33,"values":[0,0.1,0.2,0.3,0.4,0.5,0.6,0.7],"format":".1f","title":"Velocity Profile For Precision n = 4 and FP = 1"}},
        "y":{"field":"y","type":"quantitative","scale":{"domain":[-0.05,1.05],"range":[200,27],"nice":false,"zero":false},"axis":{"orient":"left","offset":-54,"values":[0,0.2,0.4,0.6,0.8,1],"format":".1f","title":"Grid Coordinates"}},
        "color":{"field":"s","type":"nominal","scale":{"domain":[0,1,2,3,4,5,6,7,8,9],"range":["#000080","#0000ff","#0063ff","#00d4ff","#4dffaa","#aaff4d","#ffe600","#ff7e00","#ff1300","#800000"]},"legend":{"orient":"none","legendX":292,"legendY":79,"title":null}},
        "order":{"field":"y","type":"quantitative"}}}
      ]},
      {"layer":[
       {"data":{"values":[{}]},"mark":{"type":"rect","fillOpacity":0,"stroke":"#333","strokeWidth":0.8},"encoding":{"x":{"datum":-0.03875,"type":"quantitative"},"x2":{"datum":0.81375},"y":{"datum":-0.05,"type":"quantitative"},"y2":{"datum":1.05}}},
       {"data":{"name":"P47"},"mark":{"type":"line","strokeWidth":1.25},"encoding":{
        "x":{"field":"x","type":"quantitative","scale":{"domain":[-0.03875,0.81375],"range":[384,616],"nice":false,"zero":false},"axis":{"orient":"bottom","offset":-33,"values":[0,0.1,0.2,0.3,0.4,0.5,0.6,0.7,0.8],"format":".1f","title":"Velocity Profile For Precision n = 4 and FP = 1"}},
        "y":{"field":"y","type":"quantitative","scale":{"domain":[-0.05,1.05],"range":[200,27],"nice":false,"zero":false},"axis":{"orient":"left","offset":-384,"values":[0,0.2,0.4,0.6,0.8,1],"format":".1f","title":"Grid Coordinates"}},
        "color":{"field":"s","type":"nominal","scale":{"domain":[0,1,2,3,4,5,6,7,8,9],"range":["#000080","#0000ff","#0063ff","#00d4ff","#4dffaa","#aaff4d","#ffe600","#ff7e00","#ff1300","#800000"]},"legend":{"orient":"none","legendX":622,"legendY":79,"title":null}},
        "order":{"field":"y","type":"quantitative"}}}
      ]},
      {"layer":[
       {"data":{"values":[{}]},"mark":{"type":"rect","fillOpacity":0,"stroke":"#333","strokeWidth":0.8},"encoding":{"x":{"datum":-0.035,"type":"quantitative"},"x2":{"datum":0.735},"y":{"datum":-0.05,"type":"quantitative"},"y2":{"datum":1.05}}},
       {"data":{"name":"P49"},"mark":{"type":"line","strokeWidth":1.25},"encoding":{
        "x":{"field":"x","type":"quantitative","scale":{"domain":[-0.035,0.735],"range":[714,946],"nice":false,"zero":false},"axis":{"orient":"bottom","offset":-33,"values":[0,0.1,0.2,0.3,0.4,0.5,0.6,0.7],"format":".1f","title":"Velocity Profile For Precision n = 4 and FP = 1"}},
        "y":{"field":"y","type":"quantitative","scale":{"domain":[-0.05,1.05],"range":[200,27],"nice":false,"zero":false},"axis":{"orient":"left","offset":-714,"values":[0,0.2,0.4,0.6,0.8,1],"format":".1f","title":"Grid Coordinates"}},
        "color":{"field":"s","type":"nominal","scale":{"domain":[0,1,2,3,4,5,6,7,8,9],"range":["#000080","#0000ff","#0063ff","#00d4ff","#4dffaa","#aaff4d","#ffe600","#ff7e00","#ff1300","#800000"]},"legend":{"orient":"none","legendX":952,"legendY":79,"title":null}},
        "order":{"field":"y","type":"quantitative"}}}
      ]}
     ]},
    {"width":2,"height":233,"data":{"values":[]},"mark":"point","view":{"fill":"#151515"}}
   ]},
   {"width":1264,"height":2,"data":{"values":[]},"mark":"point","view":{"fill":"#151515"}},
   {"spacing":0,"hconcat":[
    {"width":2,"height":233,"data":{"values":[]},"mark":"point","view":{"fill":"#151515"}},
    {"width":268,"height":233,"data":{"values":[{"t":"8"}]},"mark":{"type":"text","align":"left","baseline":"alphabetic","font":"Liberation Serif","fontSize":32,"color":"#000","clip":true},
     "encoding":{"text":{"field":"t"},"x":{"datum":0.052,"type":"quantitative","scale":{"domain":[0,1]},"axis":null},"y":{"datum":0.041,"type":"quantitative","scale":{"domain":[0,1]},"axis":null}}},
    {"width":2,"height":233,"data":{"values":[]},"mark":"point","view":{"fill":"#151515"}},
    {"width":990,"height":233,
     "resolve":{"scale":{"x":"independent","y":"independent","color":"independent"},"axis":{"x":"independent","y":"independent"},"legend":{"color":"independent"}},
     "layer":[
      {"layer":[
       {"data":{"values":[{}]},"mark":{"type":"rect","fillOpacity":0,"stroke":"#333","strokeWidth":0.8},"encoding":{"x":{"datum":-0.03135,"type":"quantitative"},"x2":{"datum":0.65835},"y":{"datum":-0.05,"type":"quantitative"},"y2":{"datum":1.05}}},
       {"data":{"name":"P85"},"mark":{"type":"line","strokeWidth":1.25},"encoding":{
        "x":{"field":"x","type":"quantitative","scale":{"domain":[-0.03135,0.65835],"range":[54,286],"nice":false,"zero":false},"axis":{"orient":"bottom","offset":-33,"values":[0,0.1,0.2,0.3,0.4,0.5,0.6],"format":".1f","title":"Velocity Profile For Precision n = 8 and FP = 1"}},
        "y":{"field":"y","type":"quantitative","scale":{"domain":[-0.05,1.05],"range":[200,27],"nice":false,"zero":false},"axis":{"orient":"left","offset":-54,"values":[0,0.2,0.4,0.6,0.8,1],"format":".1f","title":"Grid Coordinates"}},
        "color":{"field":"s","type":"nominal","scale":{"domain":[0,1,2,3,4,5,6,7,8,9],"range":["#000080","#0000ff","#0063ff","#00d4ff","#4dffaa","#aaff4d","#ffe600","#ff7e00","#ff1300","#800000"]},"legend":{"orient":"none","legendX":292,"legendY":79,"title":null}},
        "order":{"field":"y","type":"quantitative"}}}
      ]},
      {"layer":[
       {"data":{"values":[{}]},"mark":{"type":"rect","fillOpacity":0,"stroke":"#333","strokeWidth":0.8},"encoding":{"x":{"datum":-0.03585,"type":"quantitative"},"x2":{"datum":0.75285},"y":{"datum":-0.05,"type":"quantitative"},"y2":{"datum":1.05}}},
       {"data":{"name":"P87"},"mark":{"type":"line","strokeWidth":1.25},"encoding":{
        "x":{"field":"x","type":"quantitative","scale":{"domain":[-0.03585,0.75285],"range":[384,616],"nice":false,"zero":false},"axis":{"orient":"bottom","offset":-33,"values":[0,0.1,0.2,0.3,0.4,0.5,0.6,0.7],"format":".1f","title":"Velocity Profile For Precision n = 8 and FP = 1"}},
        "y":{"field":"y","type":"quantitative","scale":{"domain":[-0.05,1.05],"range":[200,27],"nice":false,"zero":false},"axis":{"orient":"left","offset":-384,"values":[0,0.2,0.4,0.6,0.8,1],"format":".1f","title":"Grid Coordinates"}},
        "color":{"field":"s","type":"nominal","scale":{"domain":[0,1,2,3,4,5,6,7,8,9],"range":["#000080","#0000ff","#0063ff","#00d4ff","#4dffaa","#aaff4d","#ffe600","#ff7e00","#ff1300","#800000"]},"legend":{"orient":"none","legendX":622,"legendY":79,"title":null}},
        "order":{"field":"y","type":"quantitative"}}}
      ]}
     ]},
    {"width":2,"height":233,"data":{"values":[]},"mark":"point","view":{"fill":"#151515"}}
   ]},
   {"width":1264,"height":2,"data":{"values":[]},"mark":"point","view":{"fill":"#151515"}},
   {"spacing":0,"hconcat":[
    {"width":2,"height":233,"data":{"values":[]},"mark":"point","view":{"fill":"#151515"}},
    {"width":268,"height":233,"data":{"values":[{"t":"double"}]},"mark":{"type":"text","align":"left","baseline":"alphabetic","font":"Liberation Serif","fontSize":32,"color":"#000","clip":true},
     "encoding":{"text":{"field":"t"},"x":{"datum":0.052,"type":"quantitative","scale":{"domain":[0,1]},"axis":null},"y":{"datum":0.041,"type":"quantitative","scale":{"domain":[0,1]},"axis":null}}},
    {"width":2,"height":233,"data":{"values":[]},"mark":"point","view":{"fill":"#151515"}},
    {"width":990,"height":233,
     "resolve":{"scale":{"x":"independent","y":"independent","color":"independent"},"axis":{"x":"independent","y":"independent"},"legend":{"color":"independent"}},
     "layer":[
      {"layer":[
       {"data":{"values":[{}]},"mark":{"type":"rect","fillOpacity":0,"stroke":"#333","strokeWidth":0.8},"encoding":{"x":{"datum":-0.02,"type":"quantitative"},"x2":{"datum":0.42},"y":{"datum":-0.05,"type":"quantitative"},"y2":{"datum":1.05}}},
       {"data":{"name":"PD5"},"mark":{"type":"line","strokeWidth":1.25},"encoding":{
        "x":{"field":"x","type":"quantitative","scale":{"domain":[-0.02,0.42],"range":[54,286],"nice":false,"zero":false},"axis":{"orient":"bottom","offset":-33,"values":[0,0.05,0.1,0.15,0.2,0.25,0.3,0.35,0.4],"format":".2f","title":"Velocity Profile"}},
        "y":{"field":"y","type":"quantitative","scale":{"domain":[-0.05,1.05],"range":[200,27],"nice":false,"zero":false},"axis":{"orient":"left","offset":-54,"values":[0,0.2,0.4,0.6,0.8,1],"format":".1f","title":"Grid Coordinates"}},
        "color":{"field":"s","type":"nominal","scale":{"domain":[0,1,2,3,4,5,6,7,8,9],"range":["#000080","#0000ff","#0063ff","#00d4ff","#4dffaa","#aaff4d","#ffe600","#ff7e00","#ff1300","#800000"]},"legend":{"orient":"none","legendX":292,"legendY":79,"title":null}},
        "order":{"field":"y","type":"quantitative"}}}
      ]},
      {"layer":[
       {"data":{"values":[{}]},"mark":{"type":"rect","fillOpacity":0,"stroke":"#333","strokeWidth":0.8},"encoding":{"x":{"datum":-0.0143,"type":"quantitative"},"x2":{"datum":0.3003},"y":{"datum":-0.05,"type":"quantitative"},"y2":{"datum":1.05}}},
       {"data":{"name":"PD7"},"mark":{"type":"line","strokeWidth":1.25},"encoding":{
        "x":{"field":"x","type":"quantitative","scale":{"domain":[-0.0143,0.3003],"range":[384,616],"nice":false,"zero":false},"axis":{"orient":"bottom","offset":-33,"values":[0,0.05,0.1,0.15,0.2,0.25,0.3],"format":".2f","title":"Velocity Profile"}},
        "y":{"field":"y","type":"quantitative","scale":{"domain":[-0.05,1.05],"range":[200,27],"nice":false,"zero":false},"axis":{"orient":"left","offset":-384,"values":[0,0.2,0.4,0.6,0.8,1],"format":".1f","title":"Grid Coordinates"}},
        "color":{"field":"s","type":"nominal","scale":{"domain":[0,1,2,3,4,5,6,7,8,9],"range":["#000080","#0000ff","#0063ff","#00d4ff","#4dffaa","#aaff4d","#ffe600","#ff7e00","#ff1300","#800000"]},"legend":{"orient":"none","legendX":622,"legendY":79,"title":null}},
        "order":{"field":"y","type":"quantitative"}}}
      ]},
      {"layer":[
       {"data":{"values":[{}]},"mark":{"type":"rect","fillOpacity":0,"stroke":"#333","strokeWidth":0.8},"encoding":{"x":{"datum":-0.0098,"type":"quantitative"},"x2":{"datum":0.2058},"y":{"datum":-0.05,"type":"quantitative"},"y2":{"datum":1.05}}},
       {"data":{"name":"PD9"},"mark":{"type":"line","strokeWidth":1.25},"encoding":{
        "x":{"field":"x","type":"quantitative","scale":{"domain":[-0.0098,0.2058],"range":[714,946],"nice":false,"zero":false},"axis":{"orient":"bottom","offset":-33,"values":[0,0.025,0.05,0.075,0.1,0.125,0.15,0.175,0.2],"format":".3f","title":"Velocity Profile"}},
        "y":{"field":"y","type":"quantitative","scale":{"domain":[-0.05,1.05],"range":[200,27],"nice":false,"zero":false},"axis":{"orient":"left","offset":-714,"values":[0,0.2,0.4,0.6,0.8,1],"format":".1f","title":"Grid Coordinates"}},
        "color":{"field":"s","type":"nominal","scale":{"domain":[0,1,2,3,4,5,6,7,8,9],"range":["#000080","#0000ff","#0063ff","#00d4ff","#4dffaa","#aaff4d","#ffe600","#ff7e00","#ff1300","#800000"]},"legend":{"orient":"none","legendX":952,"legendY":79,"title":null}},
        "order":{"field":"y","type":"quantitative"}}}
      ]}
     ]},
    {"width":2,"height":233,"data":{"values":[]},"mark":"point","view":{"fill":"#151515"}}
   ]},
   {"width":1264,"height":2,"data":{"values":[]},"mark":"point","view":{"fill":"#151515"}},
   {"width":1,"height":25,"data":{"values":[]},"mark":"point"}
  ]},
  {"width":32,"height":1046,"data":{"values":[]},"mark":"point"},
  {"width":1,"height":1046,"data":{"values":[]},"mark":"point","view":{"fill":"#8a8a8a"}}
 ]},
 {"width":1338,"height":1,"data":{"values":[]},"mark":"point","view":{"fill":"#8a8a8a"}},
 {"width":1338,"height":37,
  "layer":[
   {"data":{"values":[{"t":"FIGURE 5 |"}]},"mark":{"type":"text","align":"left","baseline":"alphabetic","font":"Liberation Sans","fontSize":18.5,"fontWeight":"bold","color":"#111"},
    "encoding":{"text":{"field":"t"},"x":{"datum":0.012,"type":"quantitative","scale":{"domain":[0,1]},"axis":null},"y":{"datum":0.27,"type":"quantitative","scale":{"domain":[0,1]},"axis":null}}},
   {"data":{"values":[{"t":"Solution profiles corresponding to unweighted mean state for precision’s 2, 4, 8 and double for mesh with sizes 5, 7 and 9."}]},"mark":{"type":"text","align":"left","baseline":"alphabetic","font":"Liberation Sans","fontSize":18.5,"color":"#222"},
    "encoding":{"text":{"field":"t"},"x":{"datum":0.0882,"type":"quantitative","scale":{"domain":[0,1]},"axis":null},"y":{"datum":0.27,"type":"quantitative","scale":{"domain":[0,1]},"axis":null}}}
  ]}
]
}
